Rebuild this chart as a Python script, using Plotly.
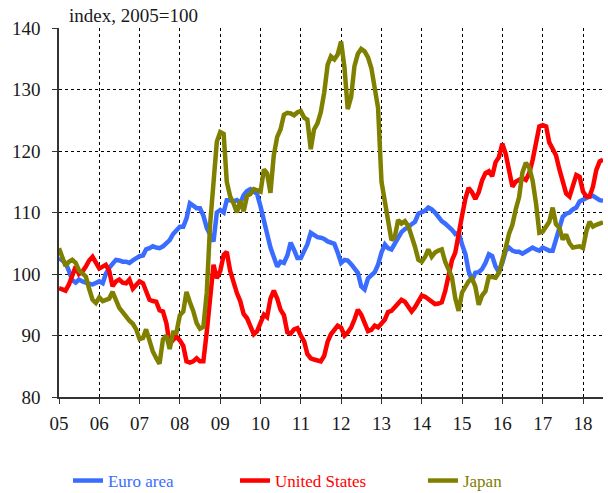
import pandas as pd
import plotly.graph_objects as go

# Monthly real effective exchange rate indices, Jan 2005 - Jul 2018 (2005 = 100)
months = pd.date_range("2005-01-01", "2018-07-01", freq="MS")

euro_area = [
    102.6, 102.1, 101.8, 100.5, 99.0, 98.6, 99.1, 98.8, 98.5, 98.4, 98.3, 98.6,      # 2005
    98.8, 98.5, 100.0, 101.0, 101.8, 102.3, 102.2, 102.0, 102.0, 101.8, 102.2, 102.6,  # 2006
    102.9, 103.0, 104.0, 104.2, 104.5, 104.3, 104.2, 104.5, 105.0, 105.5, 106.5, 107.0,  # 2007
    107.7, 107.7, 109.0, 111.5, 111.2, 110.7, 110.7, 109.5, 107.5, 106.3, 105.3, 110.0,  # 2008
    110.4, 110.0, 112.0, 112.0, 111.8, 112.0, 111.5, 112.8, 113.5, 113.8, 113.4, 113.0,  # 2009
    111.0, 108.3, 106.6, 104.3, 102.5, 101.2, 102.0, 101.8, 103.0, 105.1, 103.9, 102.6,  # 2010
    102.6, 103.6, 104.8, 106.7, 106.3, 106.0, 105.9, 105.7, 105.3, 105.1, 104.9, 103.5,  # 2011
    101.8, 102.3, 102.2, 101.6, 101.0, 100.2, 98.0, 97.5, 99.3, 99.8, 100.3, 101.5,    # 2012
    103.5, 104.8, 104.2, 104.0, 105.0, 106.0, 106.8, 107.3, 107.6, 108.1, 108.5, 109.8,  # 2013
    110.1, 110.3, 110.8, 110.5, 110.0, 109.3, 108.6, 108.2, 107.8, 107.2, 106.5, 106.7,  # 2014
    104.8, 103.2, 100.5, 98.9, 100.2, 100.3, 100.8, 101.8, 103.2, 102.9, 101.2, 100.3,  # 2015
    101.8, 103.8, 104.3, 103.8, 103.6, 103.6, 103.3, 103.6, 103.9, 104.3, 104.0, 103.8,  # 2016
    104.3, 104.0, 103.8, 103.8, 105.7, 107.2, 109.3, 109.8, 110.0, 110.5, 110.8, 111.8,  # 2017
    112.1, 112.4, 112.6, 112.7, 112.3, 112.0, 111.9,                                    # 2018
]

united_states = [
    97.7, 97.4, 97.3, 98.3, 99.8, 101.2, 100.0, 100.4, 101.2, 102.2, 102.8, 101.9,    # 2005
    100.9, 101.2, 101.5, 100.5, 98.0, 98.8, 99.1, 98.6, 98.5, 99.1, 97.6, 98.2,       # 2006
    98.8, 98.5, 97.1, 95.8, 95.6, 95.5, 94.1, 93.9, 92.0, 88.6, 89.3, 89.8,           # 2007
    89.2, 88.3, 85.8, 85.6, 85.8, 86.3, 85.8, 85.8, 90.6, 95.5, 101.5, 99.3,          # 2008
    100.5, 103.1, 103.6, 100.5, 98.4, 96.9, 95.6, 93.5, 92.8, 91.3, 90.2, 90.7,       # 2009
    92.3, 93.4, 93.0, 96.0, 97.3, 96.0, 94.2, 93.3, 90.5, 90.3, 91.0, 91.2,           # 2010
    90.0, 89.0, 87.0, 86.3, 86.1, 86.0, 85.8, 86.7, 89.0, 90.2, 90.8, 91.6,           # 2011
    91.3, 90.0, 90.5, 91.3, 92.6, 94.2, 93.4, 92.2, 90.7, 90.9, 91.6, 91.3,           # 2012
    92.0, 92.6, 93.8, 94.0, 94.6, 95.3, 95.8, 95.5, 94.7, 93.9, 94.6, 95.6,           # 2013
    96.5, 96.3, 95.9, 95.4, 95.1, 95.2, 95.4, 97.2, 99.6, 102.2, 103.5, 106.8,        # 2014
    109.5, 112.3, 114.0, 113.3, 112.2, 113.3, 115.2, 116.4, 116.7, 115.9, 118.2, 119.0,  # 2015
    121.2, 119.5, 116.8, 114.2, 115.0, 115.3, 115.6, 115.3, 116.4, 118.5, 121.8, 124.0,  # 2016
    124.2, 124.0, 121.4, 120.3, 119.3, 117.0, 114.8, 113.1, 112.6, 114.5, 116.1, 115.8,  # 2017
    113.4, 112.6, 112.6, 114.2, 116.9, 118.3, 118.6,                                  # 2018
]

japan = [
    104.2, 102.8, 101.3, 102.0, 102.3, 101.8, 100.6, 100.1, 99.6, 97.6, 95.8, 95.3,   # 2005
    96.2, 95.6, 95.8, 96.0, 97.1, 95.5, 94.5, 93.8, 93.0, 92.4, 91.9, 91.0,           # 2006
    89.4, 89.6, 91.0, 88.8, 87.4, 86.3, 85.4, 89.4, 90.0, 87.8, 90.5, 90.5,           # 2007
    93.3, 93.9, 97.1, 95.4, 94.0, 92.0, 91.1, 91.4, 97.0, 108.0, 116.0, 121.5,        # 2008
    123.1, 122.8, 115.0, 112.6, 111.5, 110.0, 111.9, 110.2, 112.7, 113.0, 113.8, 113.6,  # 2009
    113.4, 117.0, 116.4, 113.2, 119.3, 122.3, 123.5, 125.9, 126.2, 126.1, 125.8, 126.3,  # 2010
    126.5, 125.4, 125.1, 120.3, 123.5, 124.5, 126.3, 129.5, 134.0, 135.4, 134.9, 135.7,  # 2011
    137.8, 133.5, 126.8, 128.8, 133.8, 135.8, 136.6, 136.2, 135.2, 133.5, 130.6, 127.0,  # 2012
    115.0, 111.7, 109.5, 105.5, 106.0, 108.8, 108.2, 108.6, 107.8, 106.3, 104.4, 102.3,  # 2013
    102.0, 102.8, 104.0, 102.8, 103.5, 103.8, 104.0, 102.0, 100.8, 99.5, 96.0, 94.0,  # 2014
    97.0, 97.9, 98.8, 99.3, 98.0, 95.0, 96.5, 97.2, 99.6, 99.5, 99.4, 100.2,          # 2015
    102.0, 104.3, 106.5, 108.0, 110.5, 112.5, 116.5, 118.1, 117.3, 115.2, 111.5, 106.7,  # 2016
    106.9, 107.6, 108.5, 110.8, 108.1, 107.5, 105.6, 106.4, 105.0, 104.3, 104.5, 104.5,  # 2017
    104.2, 107.0, 108.5, 107.7, 108.0, 108.3, 108.4,                                  # 2018
]

series_names = ["Euro area", "United States", "Japan"]
series_values = [euro_area, united_states, japan]
series_colors = ["#3a6cff", "#ff0000", "#808000"]
legend_ids = ["legend", "legend2", "legend3"]
legend_x = [0.0165, 0.3235, 0.669]

y_ticks = [80, 90, 100, 110, 120, 130, 140]

FONT = "Liberation Serif, Times New Roman, serif"
TEXT = "#1a1a1a"

fig = go.Figure()
for name, values, color, lid in zip(series_names, series_values, series_colors, legend_ids):
    fig.add_trace(go.Scatter(
        x=months, y=values, name=name, mode="lines",
        line=dict(color=color, width=4.5),
        legend=lid, showlegend=True,
    ))

legend_common = dict(
    orientation="h", xanchor="left", yanchor="middle", y=-0.2276,
    bgcolor="rgba(0,0,0,0)", itemclick=False, itemdoubleclick=False,
    visible=True,
)

fig.update_layout(
    width=608, height=493,
    showlegend=True,
    margin=dict(l=59, r=5, t=28, b=96, autoexpand=False),
    paper_bgcolor="white", plot_bgcolor="white",
    font=dict(family=FONT, size=19, color=TEXT),
    xaxis=dict(
        type="date", range=["2005-01-01", "2018-07-01"],
        tick0="2005-01-01", dtick="M12", tickformat="%y",
        showgrid=True, gridcolor="black", griddash="dot", gridwidth=1,
        showline=True, linecolor="#333", linewidth=1.5,
        ticks="outside", ticklen=5, tickcolor="#333",
        ticklabelstandoff=3, zeroline=False,
        tickfont=dict(family=FONT, size=19, color=TEXT),
    ),
    yaxis=dict(
        range=[80, 140], tickvals=y_ticks,
        showgrid=True, gridcolor="black", griddash="dot", gridwidth=1,
        showline=True, linecolor="#333", linewidth=1.5,
        ticks="outside", ticklen=5, tickcolor="#333",
        ticklabelstandoff=8, zeroline=False,
        tickfont=dict(family=FONT, size=19, color=TEXT),
    ),
    legend=dict(x=legend_x[0], font=dict(family=FONT, size=17, color=series_colors[0]), **legend_common),
    legend2=dict(x=legend_x[1], font=dict(family=FONT, size=17, color=series_colors[1]), **legend_common),
    legend3=dict(x=legend_x[2], font=dict(family=FONT, size=17, color=series_colors[2]), **legend_common),
    annotations=[dict(
        text="index, 2005=100", xref="paper", yref="paper",
        x=0.0147, y=1.035, xanchor="left", yanchor="middle",
        showarrow=False, font=dict(family=FONT, size=19, color=TEXT),
    )],
)

fig.write_html("out.html")
